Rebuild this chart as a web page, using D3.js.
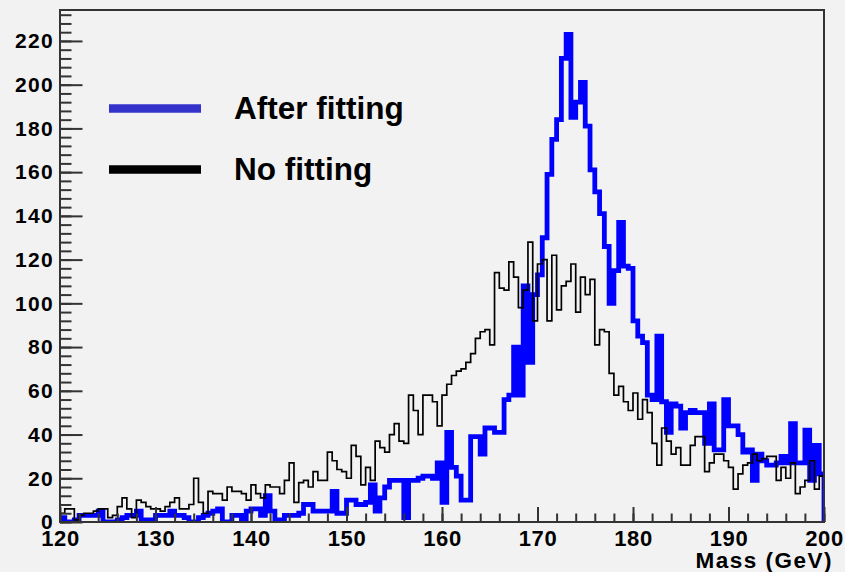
<!DOCTYPE html>
<html><head><meta charset="utf-8">
<script src="https://cdn.jsdelivr.net/npm/d3@7"></script>
<style>html,body{margin:0;padding:0;background:#f2f2f2;} svg{display:block}</style>
</head><body>
<svg id="c" width="845" height="572"></svg>
<script>
// ---- data ----
const massLow = 120, massHigh = 200, binWidth = 0.5;
const afterFitting = [
 2,0,0,1,3,3,3,3,5,0, 0,0,1,2,3,3,5,1,1,1, 3,3,3,5,3,3,2,0,0,2, 3,4,5,6,0,0,3,3,1,5,
 6,6,3,12,5,0,1,3,3,3, 4,8,8,5,5,5,5,14,4,4, 10,10,8,8,9,17,5,11,16,19, 19,19,2,19,19,20,21,21,20,27,
 9,41,25,21,10,10,39,39,31,43, 43,41,41,56,58,80,58,108,73,104, 113,130,159,175,184,212,223,185,192,201, 181,161,151,141,126,100,115,137,117,116,
 92,85,82,58,56,85,55,41,54,53, 43,50,51,50,50,36,54,33,33,56, 44,44,40,32,33,19,31,28,26,26, 27,30,27,45,27,27,42,19,35,22
];
const noFitting = [
 4,6,6,1,3,4,4,5,6,6, 2,3,7,11,6,2,10,9,7,6, 6,5,7,9,11,6,6,8,20,9, 4,14,13,13,10,16,14,14,13,10,
 17,13,11,17,16,16,13,19,27,9, 18,19,16,23,19,19,32,28,24,23, 20,35,30,17,25,19,37,34,32,40, 45,37,36,58,51,40,58,58,55,44,
 58,63,67,69,70,73,77,84,87,88, 81,114,107,106,119,112,98,106,128,92, 118,120,92,122,97,108,110,118,96,112, 104,111,81,88,87,68,58,62,55,51,
 59,47,56,50,36,26,43,37,31,34, 26,26,35,39,39,23,27,31,31,28, 25,15,22,26,27,31,28,29,30,30, 19,25,20,27,13,16,19,28,15,21
];
const xTickValues = [120,130,140,150,160,170,180,190,200];
const yTickValues = [0,20,40,60,80,100,120,140,160,180,200,220];
const seriesNames = ["After fitting","No fitting"];
const seriesColors = ["#0000ff","#000000"];
const legendColors = ["#3333cc","#000000"];
const xTitle = "Mass (GeV)";

// ---- layout ----
const svg = d3.select("#c");
const L = 60, R = 824, T = 10, B = 522;
const maxVal = d3.max(afterFitting.concat(noFitting));
const x = d3.scaleLinear().domain([massLow, massHigh]).range([L, R]);
const y = d3.scaleLinear().domain([0, maxVal * 1.05]).range([B, T]);

svg.append("rect").attr("width",845).attr("height",572).attr("fill","#f2f2f2");

function stepPoints(vals){
  const pts = [[massLow, 0]];
  vals.forEach((v,i)=>{
    const a = massLow + i*binWidth;
    pts.push([a, v]); pts.push([a+binWidth, v]);
  });
  pts.push([massHigh, 0]);
  return pts;
}
const line = d3.line().x(d=>x(d[0])).y(d=>y(d[1]));

svg.append("defs").append("clipPath").attr("id","pc")
  .append("rect").attr("x",L).attr("y",T).attr("width",R-L).attr("height",B-T);

const plot = svg.append("g").attr("clip-path","url(#pc)");
plot.append("path").attr("d", line(stepPoints(afterFitting)))
  .attr("fill","none").attr("stroke",seriesColors[0]).attr("stroke-width",4.8)
  .attr("stroke-linejoin","miter").attr("stroke-linecap","butt");
plot.append("path").attr("d", line(stepPoints(noFitting)))
  .attr("fill","none").attr("stroke",seriesColors[1]).attr("stroke-width",1.7)
  .attr("stroke-linejoin","miter");

// ---- axes ----
const axisColor = "#333";
const fontFam = "'Liberation Sans', Arial, Helvetica, sans-serif";

const yMinor = d3.range(0, maxVal*1.05, 4);
const gyMinor = svg.append("g").attr("transform",`translate(${L},0)`)
  .call(d3.axisLeft(y).tickValues(yMinor).tickSize(-11.5).tickFormat(""));
const gy = svg.append("g").attr("transform",`translate(${L},0)`)
  .call(d3.axisLeft(y).tickValues(yTickValues).tickSize(-22.5).tickPadding(6).tickFormat(d3.format("d")));

const xMinor = d3.range(massLow, massHigh+0.01, 2);
const gxMinor = svg.append("g").attr("transform",`translate(0,${B})`)
  .call(d3.axisBottom(x).tickValues(xMinor).tickSize(-8.5).tickFormat(""));
const gx = svg.append("g").attr("transform",`translate(0,${B})`)
  .call(d3.axisBottom(x).tickValues(xTickValues).tickSize(-15).tickPadding(9).tickFormat(d3.format("d")));

[gyMinor, gy, gxMinor, gx].forEach(g=>{
  g.select(".domain").remove();
  g.selectAll("line").attr("stroke",axisColor).attr("stroke-width",2);
});
gy.selectAll("text").attr("fill","#000").attr("font-family",fontFam)
  .attr("font-weight","bold").attr("font-size",21).attr("letter-spacing","1.3px");
gx.selectAll("text").attr("fill","#000").attr("font-family",fontFam)
  .attr("font-weight","bold").attr("font-size",22).attr("letter-spacing","0.6px")
  .attr("dy","0.66em");

// frame
svg.append("rect").attr("x",L).attr("y",T).attr("width",R-L).attr("height",B-T)
  .attr("fill","none").attr("stroke",axisColor).attr("stroke-width",2);

// x title
svg.append("text").attr("x",833).attr("y",568).attr("text-anchor","end")
  .attr("font-family",fontFam).attr("font-weight","bold").attr("font-size",22.5)
  .attr("letter-spacing","1.5px")
  .attr("fill","#000").text(xTitle);

// legend
const leg = svg.append("g");
seriesNames.forEach((name,i)=>{
  const yy = 108.5 + i*61;
  leg.append("line").attr("x1",109).attr("x2",201).attr("y1",yy).attr("y2",yy)
    .attr("stroke",legendColors[i]).attr("stroke-width",8.7);
  leg.append("text").attr("x",234).attr("y",yy+10.5)
    .attr("font-family",fontFam).attr("font-weight","bold").attr("font-size",31.5)
    .attr("fill","#000").text(name);
});
</script>
</body></html>
